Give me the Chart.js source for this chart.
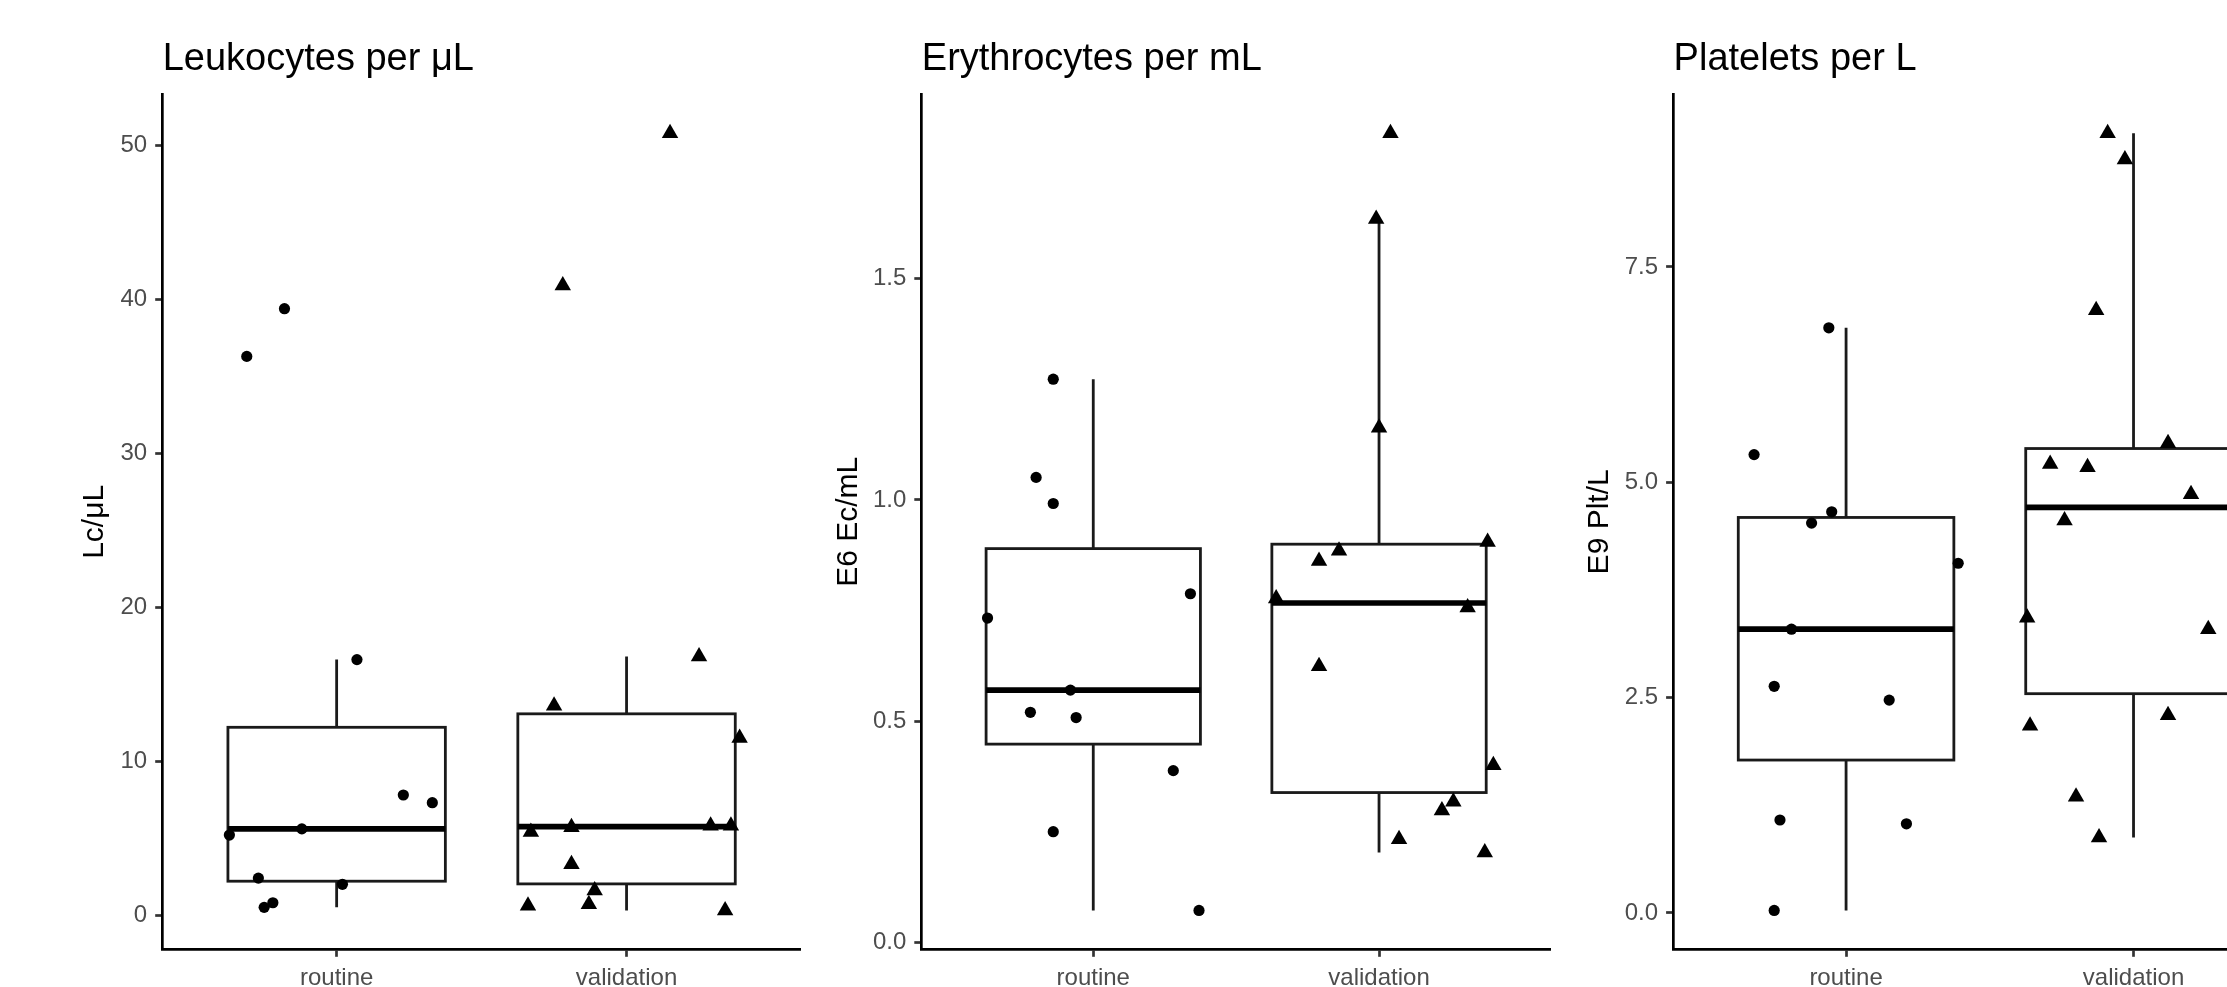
<!DOCTYPE html>
<html>
<head>
<meta charset="utf-8">
<title>Blood counts: routine vs validation</title>
<script src="https://cdn.jsdelivr.net/npm/chart.js@4.4.1/dist/chart.umd.min.js"></script>
<style>
  html, body { margin: 0; padding: 0; background: #fff; overflow: hidden; }
  body { position: relative; width: 2227px; height: 987px; }
  canvas { position: absolute; top: 0; }
</style>
</head>
<body>
<canvas id="leuko" width="810" height="1000" style="left:0px"></canvas>
<canvas id="erythro" width="750" height="1000" style="left:810px"></canvas>
<canvas id="plt" width="760" height="1000" style="left:1560px"></canvas>
<script>
const groups = ['routine', 'validation'];

// Leukocytes per μL (x = jittered position, 1 = routine, 2 = validation)
const leukoRoutine = [36.3, 39.4, 5.2, 2.4, 0.5, 0.8, 5.6, 2.0, 16.6, 7.8, 7.3];
const leukoRoutineX = [0.69, 0.82, 0.63, 0.73, 0.75, 0.78, 0.88, 1.02, 1.07, 1.23, 1.33];
const leukoValid = [50.8, 40.9, 13.6, 16.8, 11.5, 5.4, 5.7, 3.3, 1.6, 0.6, 0.7, 5.8, 5.8, 0.3];
const leukoValidX = [2.15, 1.78, 1.75, 2.25, 2.39, 1.67, 1.81, 1.81, 1.89, 1.66, 1.87, 2.29, 2.36, 2.34];
const leukoTicks = ['0', '10', '20', '30', '40', '50'];

// Erythrocytes per mL
const eryRoutine = [1.273, 1.051, 0.992, 0.733, 0.788, 0.570, 0.520, 0.508, 0.388, 0.250, 0.072];
const eryRoutineX = [0.86, 0.80, 0.86, 0.63, 1.34, 0.92, 0.78, 0.94, 1.28, 0.86, 1.37];
const eryValid = [1.829, 1.635, 1.163, 0.885, 0.862, 0.905, 0.777, 0.757, 0.624, 0.400, 0.318, 0.298, 0.233, 0.203];
const eryValidX = [2.04, 1.99, 2.00, 1.86, 1.79, 2.38, 1.64, 2.31, 1.79, 2.40, 2.26, 2.22, 2.07, 2.37];
const eryTicks = ['0.0', '0.5', '1.0', '1.5'];

// Platelets per L
const pltRoutine = [6.793, 5.321, 4.657, 4.526, 4.060, 3.294, 2.631, 2.471, 1.079, 1.035, 0.029];
const pltRoutineX = [0.94, 0.68, 0.95, 0.88, 1.39, 0.81, 0.75, 1.15, 0.77, 1.21, 0.75];
const pltValid = [9.052, 8.746, 6.997, 5.452, 5.211, 5.175, 4.862, 4.555, 3.426, 3.294, 2.296, 2.172, 1.348, 0.875];
const pltValidX = [1.91, 1.97, 1.87, 2.12, 1.71, 1.84, 2.20, 1.76, 1.63, 2.26, 2.12, 1.64, 1.80, 1.88];
const pltTicks = ['0.0', '2.5', '5.0', '7.5'];

const FONT = '"Liberation Sans", Arial, Helvetica, sans-serif';
const BOX_WIDTH = 0.75;

// quantile type 7, like R
function quantile(sorted, p) {
  const h = (sorted.length - 1) * p;
  const lo = Math.floor(h);
  const next = lo + 1 < sorted.length ? sorted[lo + 1] : sorted[lo];
  return sorted[lo] + (h - lo) * (next - sorted[lo]);
}

function boxStats(values) {
  const s = [...values].sort((a, b) => a - b);
  const q1 = quantile(s, 0.25), med = quantile(s, 0.5), q3 = quantile(s, 0.75);
  const iqr = q3 - q1;
  const lo = s.find(v => v >= q1 - 1.5 * iqr);
  const hi = [...s].reverse().find(v => v <= q3 + 1.5 * iqr);
  return { q1, med, q3, lo, hi };
}

const boxplotPlugin = {
  id: 'boxplot',
  beforeDatasetsDraw(chart, args, opts) {
    const { ctx } = chart;
    const xs = chart.scales.x, ys = chart.scales.y;
    opts.groups.forEach((values, i) => {
      const st = boxStats(values);
      const cx = xs.getPixelForValue(i + 1);
      const left = xs.getPixelForValue(i + 1 - BOX_WIDTH / 2);
      const right = xs.getPixelForValue(i + 1 + BOX_WIDTH / 2);
      const top = ys.getPixelForValue(st.q3);
      const bottom = ys.getPixelForValue(st.q1);
      ctx.save();
      ctx.strokeStyle = '#1a1a1a';
      ctx.lineWidth = 2.8;
      ctx.beginPath();
      ctx.moveTo(cx, top);
      ctx.lineTo(cx, ys.getPixelForValue(st.hi));
      ctx.moveTo(cx, bottom);
      ctx.lineTo(cx, ys.getPixelForValue(st.lo));
      ctx.stroke();
      ctx.fillStyle = '#ffffff';
      ctx.fillRect(left, top, right - left, bottom - top);
      ctx.strokeRect(left, top, right - left, bottom - top);
      const m = ys.getPixelForValue(st.med);
      ctx.strokeStyle = '#000000';
      ctx.lineWidth = 5.7;
      ctx.beginPath();
      ctx.moveTo(left, m);
      ctx.lineTo(right, m);
      ctx.stroke();
      ctx.restore();
    });
  }
};

// title sits flush with the panel's left edge (ggplot style)
const panelTitle = {
  id: 'panelTitle',
  afterDraw(chart, args, opts) {
    const { ctx, chartArea } = chart;
    ctx.save();
    ctx.font = '38px ' + FONT;
    ctx.fillStyle = '#000000';
    ctx.textAlign = 'left';
    ctx.textBaseline = 'alphabetic';
    ctx.fillText(opts.text, chartArea.left, chartArea.top - 24);
    ctx.restore();
  }
};

function makePanel(id, cfg) {
  const all = cfg.routine.concat(cfg.valid);
  const lo = Math.min(...all), hi = Math.max(...all);
  const pad = (hi - lo) * 0.05;
  const axisGrid = { display: true, drawOnChartArea: false, drawTicks: true, tickLength: 7.5, tickWidth: 2.7, tickColor: '#333333' };
  const axisBorder = { display: true, color: '#000000', width: 2.7 };

  new Chart(document.getElementById(id), {
    type: 'scatter',
    data: {
      datasets: [
        {
          label: groups[0],
          data: cfg.routine.map((v, i) => ({ x: cfg.routineX[i], y: v })),
          pointStyle: 'circle',
          pointRadius: 5.6,
          backgroundColor: '#000000',
          borderWidth: 0
        },
        {
          label: groups[1],
          data: cfg.valid.map((v, i) => ({ x: cfg.validX[i], y: v })),
          pointStyle: 'triangle',
          pointRadius: 9.5,
          backgroundColor: '#000000',
          borderWidth: 0
        }
      ]
    },
    options: {
      responsive: false,
      animation: false,
      layout: { padding: { top: 94.4, right: cfg.padRight, left: 0, bottom: 0 } },
      plugins: {
        legend: { display: false },
        tooltip: { enabled: false },
        panelTitle: { text: cfg.title },
        boxplot: { groups: [cfg.routine, cfg.valid] }
      },
      scales: {
        x: {
          type: 'linear',
          min: 0.4,
          max: 2.6,
          afterBuildTicks: s => { s.ticks = groups.map((g, i) => ({ value: i + 1 })); },
          afterFit: s => { s.height = 1000 - 949.3; },
          ticks: {
            callback: v => groups[Math.round(v) - 1],
            font: { family: FONT, size: 24 },
            color: '#4D4D4D',
            padding: 7.5,
            maxRotation: 0
          },
          grid: axisGrid,
          border: axisBorder
        },
        y: {
          min: lo - pad,
          max: hi + pad,
          afterBuildTicks: s => { s.ticks = cfg.ticks.map(t => ({ value: parseFloat(t) })); },
          afterFit: s => { s.width = cfg.yWidth; },
          ticks: {
            callback: (v, i) => cfg.ticks[i],
            font: { family: FONT, size: 24 },
            color: '#4D4D4D',
            padding: 8
          },
          title: {
            display: true,
            text: cfg.yTitle,
            font: { family: FONT, size: 30 },
            color: '#000000',
            padding: { top: cfg.yTitlePad, bottom: 0 }
          },
          grid: axisGrid,
          border: axisBorder
        }
      }
    },
    plugins: [boxplotPlugin, panelTitle]
  });
}

makePanel('leuko', {
  title: 'Leukocytes per μL', yTitle: 'Lc/μL',
  routine: leukoRoutine, routineX: leukoRoutineX, valid: leukoValid, validX: leukoValidX,
  ticks: leukoTicks, yWidth: 162.7, yTitlePad: 77, padRight: 7
});

makePanel('erythro', {
  title: 'Erythrocytes per mL', yTitle: 'E6 Ec/mL',
  routine: eryRoutine, routineX: eryRoutineX, valid: eryValid, validX: eryValidX,
  ticks: eryTicks, yWidth: 111.8, yTitlePad: 20.6, padRight: 7
});

makePanel('plt', {
  title: 'Platelets per L', yTitle: 'E9 Plt/L',
  routine: pltRoutine, routineX: pltRoutineX, valid: pltValid, validX: pltValidX,
  ticks: pltTicks, yWidth: 113.6, yTitlePad: 21.6, padRight: 14
});
</script>
</body>
</html>
